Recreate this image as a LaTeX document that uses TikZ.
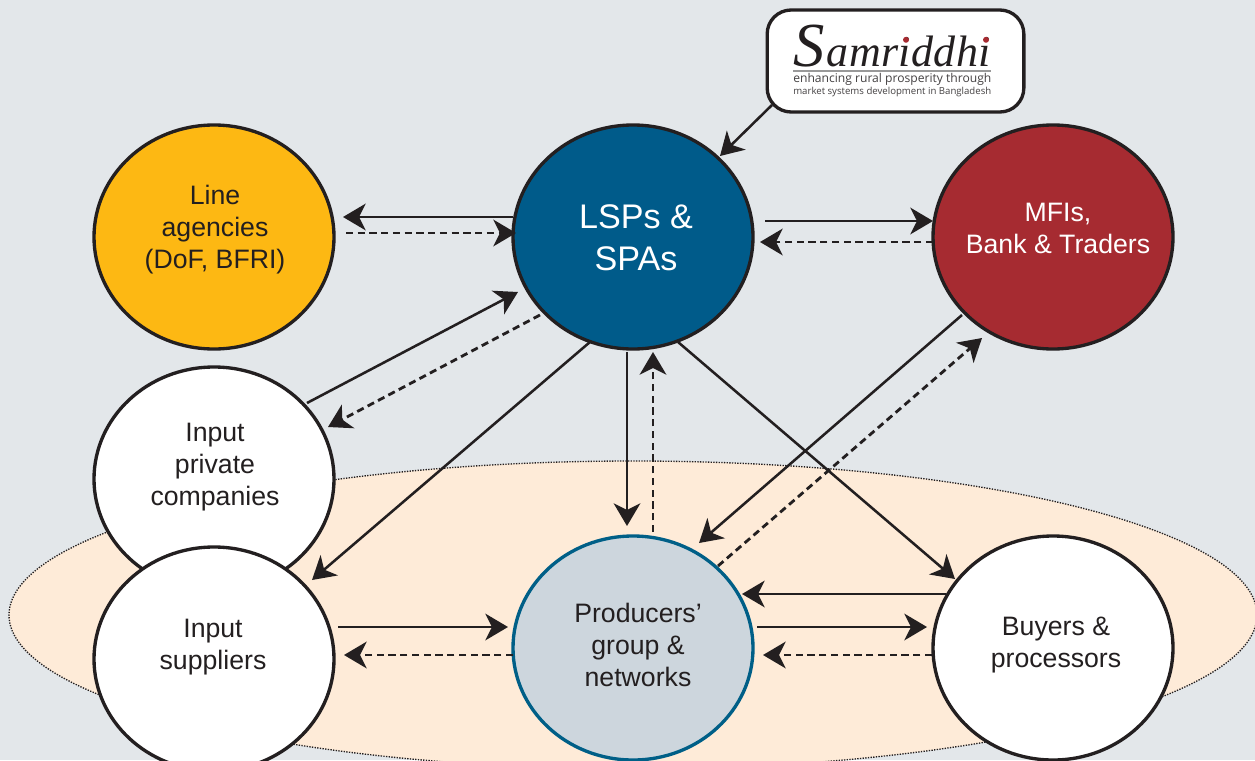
\documentclass[tikz,border=0pt]{standalone}
\usepackage{fontspec}
\usepackage{graphicx}
\setmainfont{Liberation Sans}
\newfontfamily\logoserif{Liberation Serif}
\newfontfamily\logoserifsp[LetterSpace=1]{Liberation Serif}
\newfontfamily\logosans{Open Sans}
\usetikzlibrary{arrows.meta,calc,shapes.geometric}
\definecolor{bgc}{HTML}{E3E7EA}
\definecolor{zonec}{HTML}{FEEBD8}
\definecolor{inkc}{HTML}{231F20}
\definecolor{lspc}{HTML}{005B8A}
\definecolor{mfic}{HTML}{A62B31}
\definecolor{agc}{HTML}{FDB813}
\definecolor{prodc}{HTML}{CDD6DD}
\definecolor{prodl}{HTML}{005F87}
\definecolor{dotc}{HTML}{A62B31}
\tikzset{
  x=0.75pt,y=-0.75pt,
  orb/.style={ellipse,minimum width=180pt,minimum height=168pt,inner sep=0pt,draw=inkc,line width=2.5pt},
  orbtext/.style={align=center,text=inkc,font=\fontsize{20}{24}\selectfont,inner sep=0pt},
  flow/.style={draw=inkc,line width=1.9pt,-{Stealth[length=17pt,width=20pt,inset=5pt]}},
  dflow/.style={flow,line width=2.1pt,dash pattern=on 5.4pt off 3.4pt},
}
\begin{document}
\begin{tikzpicture}
\path[use as bounding box,clip] (0,0) rectangle (1255,760);
\fill[bgc] (0,0) rectangle (1255,760);
% zone
\node[ellipse,minimum width=936pt,minimum height=231pt,inner sep=0pt,fill=zonec,draw=inkc,line width=1pt,dash pattern=on 1pt off 1pt] (zone) at (633,615) {};
% circles
\node[orb,fill=agc] (agency) at (214,237) {};
\node[orb,fill=lspc] (lsp) at (633,237) {};
\node[orb,fill=mfic] (mfi) at (1053,237) {};
\node[orb,fill=white] (private) at (214,479) {};
\node[orb,fill=white] (suppliers) at (214,659) {};
\node[orb,fill=prodc,draw=prodl] (producers) at (633,648) {};
\node[orb,fill=white] (buyers) at (1053,648) {};
% texts
\node[orbtext] (agencyt) at ($(agency)+(1,-7)$) {Line\\agencies\\(DoF, BFRI)};
\node[orbtext,text=white,font=\fontsize{25.6}{31.5}\selectfont] (lspt) at ($(lsp)+(3,1)$) {LSPs \&\\SPAs};
\node[orbtext,text=white] (mfit) at ($(mfi)+(5,-9)$) {MFIs,\\Bank \& Traders};
\node[orbtext] (privatet) at ($(private)+(1,-12)$) {Input\\private\\companies};
\node[orbtext] (supplierst) at ($(suppliers)+(-1,-12)$) {Input\\suppliers};
\node[orbtext] (producerst) at ($(producers)+(5,-3)$) {Producers’\\group \&\\networks};
\node[orbtext] (buyerst) at ($(buyers)+(3,-3)$) {Buyers \&\\processors};
% logo
\node[rectangle,rounded corners=18pt,draw=inkc,fill=white,line width=2.5pt,minimum width=192.5pt,minimum height=76.5pt,inner sep=0pt] (logo) at (895.5,61) {};
\node[anchor=base west,inner sep=0pt,text=inkc,text depth=0pt] (logoname) at (793,66) {\logoserif\itshape\fontsize{47}{47}\selectfont S\kern1.5pt\logoserifsp\itshape\fontsize{33}{33}\selectfont amriddhi};
\fill[dotc] (906,39.8) circle (3);
\fill[dotc] (986,39.8) circle (3);
\draw[draw=gray!80,line width=1.1pt] (793,71) -- (991,71);
\node[anchor=base west,inner sep=0pt,text=inkc!85] (logoline) at (793,82) {\resizebox{148.5pt}{!}{\logosans enhancing rural prosperity through}};
\node[anchor=base west,inner sep=0pt,text=inkc!85] (logosub) at (793,94) {\resizebox{148.5pt}{!}{\logosans market systems development in Bangladesh}};
% connectors
\draw[flow] ($(logo)+(-123.5,44)$) -- ($(lsp)+(87,-81)$);
\draw[flow] ($(lsp)+(-120,-20)$) -- ($(agency)+(129,-20)$);
\draw[dflow] ($(agency)+(132,-4)$) -- ($(lsp)+(-117,-4)$);
\draw[flow] ($(lsp)+(132,-16)$) -- ($(mfi)+(-120,-16)$);
\draw[dflow] ($(mfi)+(-120,5)$) -- ($(lsp)+(127,5)$);
\draw[flow] ($(private)+(93,-76)$) -- ($(lsp)+(-115,55)$);
\draw[dflow] ($(lsp)+(-93,78)$) -- ($(private)+(114,-52)$);
\draw[flow] ($(lsp)+(-43,105)$) -- ($(suppliers)+(98,-79)$);
\draw[flow] ($(lsp)+(-6,115)$) -- ($(producers)+(-6,-122)$);
\draw[dflow] ($(producers)+(20,-116)$) -- ($(lsp)+(20,115)$);
\draw[flow] ($(lsp)+(45,105)$) -- ($(buyers)+(-98,-69)$);
\draw[flow] ($(mfi)+(-91,78)$) -- ($(producers)+(66,-105)$);
\draw[dflow] ($(producers)+(85,-82)$) -- ($(mfi)+(-71,101)$);
\draw[flow] ($(buyers)+(-107,-54)$) -- ($(producers)+(109,-54)$);
\draw[flow] ($(producers)+(124,-21)$) -- ($(buyers)+(-126,-21)$);
\draw[dflow] ($(buyers)+(-121,7)$) -- ($(producers)+(130,7)$);
\draw[flow] ($(suppliers)+(124,-32)$) -- ($(producers)+(-125,-21)$);
\draw[dflow] ($(producers)+(-120,7)$) -- ($(suppliers)+(130,-4)$);
\end{tikzpicture}
\end{document}
